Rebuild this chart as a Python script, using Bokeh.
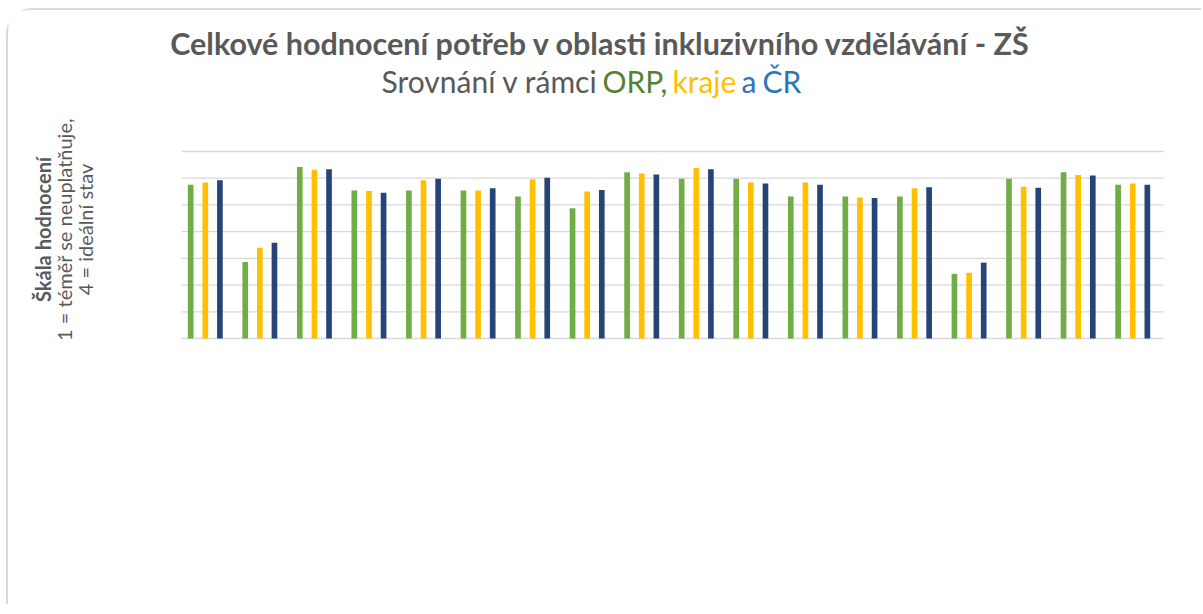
import math
from bokeh.plotting import figure
from bokeh.models import Range1d, Label
from bokeh.embed import file_html
from bokeh.resources import INLINE

# ---- data ----
categories = [str(i) for i in range(1, 19)]
orp = [2.88, 1.43, 3.21, 2.77, 2.77, 2.77, 2.66, 2.44, 3.11, 2.99, 2.99, 2.66, 2.66, 2.66, 1.21, 2.99, 3.11, 2.88]
kraj = [2.92, 1.70, 3.16, 2.76, 2.96, 2.77, 2.98, 2.75, 3.09, 3.19, 2.92, 2.92, 2.64, 2.81, 1.23, 2.84, 3.06, 2.90]
cr = [2.96, 1.79, 3.17, 2.73, 2.99, 2.81, 3.01, 2.78, 3.07, 3.17, 2.90, 2.88, 2.63, 2.83, 1.42, 2.82, 3.05, 2.88]
y_ticks = [0, 0.5, 1.0, 1.5, 2.0, 2.5, 3.0, 3.5]

title_text = "Celkové hodnocení potřeb v oblasti inkluzivního vzdělávání - ZŠ"
subtitle_parts = ["Srovnání v rámci ", "ORP,", "kraje", "a", "ČR"]
ylabel_lines = ["Škála hodnocení", "1 = téměř se neuplatňuje,", "4 = ideální stav"]

GREEN = "#70AD47"
YELLOW = "#FFC000"
BLUE = "#264478"
GRAY = "#595959"
FONT = "Lato"

# ---- layout (page pixels) ----
CANVAS_X, CANVAS_Y = 8, 10           # canvas top-left on the page
W, H = 1195, 596
PLOT_L, PLOT_R = 181, 1163           # plot area (x pixel range)
PLOT_T, PLOT_B = 151, 338            # plot area (y pixel range)
X0, X1 = 0.064, 18.064               # category axis extent within plot area
Y0, Y1 = 0.0, 3.5                    # value axis extent within plot area
LABEL_DY = 12                        # empirical vertical correction for screen labels

kx = (PLOT_R - PLOT_L) / (X1 - X0)
ky = (PLOT_B - PLOT_T) / (Y1 - Y0)
xr = Range1d(X0 - (PLOT_L - CANVAS_X) / kx, X1 + (CANVAS_X + W - PLOT_R) / kx)
yr = Range1d(Y0 - (CANVAS_Y + H - PLOT_B) / ky, Y1 + (PLOT_T - CANVAS_Y) / ky)

p = figure(width=W, height=H, output_backend="svg", toolbar_location=None,
           x_range=xr, y_range=yr,
           min_border_left=0, min_border_right=0, min_border_top=0, min_border_bottom=0)
p.xaxis.visible = False
p.yaxis.visible = False
p.xgrid.visible = False
p.ygrid.visible = False
p.outline_line_color = None
p.background_fill_color = "white"
p.border_fill_color = "white"
p.styles = {"margin-top": "8px", "margin-left": "6px",
            "border-top": "2px solid #d9d9d9", "border-left": "2px solid #d9d9d9",
            "border-top-left-radius": "26px"}

# horizontal gridlines of the value axis
p.segment(x0=[X0] * len(y_ticks), x1=[X1] * len(y_ticks), y0=y_ticks, y1=y_ticks,
          line_color="#d9d9d9", line_width=1.3)

n = len(categories)
off = 0.268
bw = 0.104
p.vbar(x=[i + 0.5 - off for i in range(n)], top=orp, bottom=0, width=bw, color=GREEN, line_color=None)
p.vbar(x=[i + 0.5 for i in range(n)], top=kraj, bottom=0, width=bw, color=YELLOW, line_color=None)
p.vbar(x=[i + 0.5 + off for i in range(n)], top=cr, bottom=0, width=bw, color=BLUE, line_color=None)

# label coordinates: frame == canvas, origin bottom-left
def lx(X):
    return X - CANVAS_X

def ly(Y):
    return CANVAS_Y + H - Y + LABEL_DY

p.add_layout(Label(x=lx(600), y=ly(54), x_units="screen", y_units="screen", text=title_text,
                   text_font=FONT, text_font_style="bold", text_font_size="30.5px", text_color=GRAY,
                   text_align="center", text_baseline="alphabetic"))

sub_x = [381, 602, 672, 741, 762]
sub_c = [GRAY, "#548235", YELLOW, "#2E75B6", "#2E75B6"]
for t, X, c in zip(subtitle_parts, sub_x, sub_c):
    p.add_layout(Label(x=lx(X), y=ly(92), x_units="screen", y_units="screen", text=t,
                       text_font=FONT, text_font_size="30px", text_color=c,
                       text_align="left", text_baseline="alphabetic"))

yl_x = [42, 63, 84]
for i, (t, X) in enumerate(zip(ylabel_lines, yl_x)):
    p.add_layout(Label(x=lx(X), y=ly(241), x_units="screen", y_units="screen", text=t,
                       angle=math.pi / 2, text_font=FONT,
                       text_font_style="bold" if i == 0 else "normal",
                       text_font_size="20px", text_color=GRAY,
                       text_align="center", text_baseline="middle"))

open("out.html", "w").write(file_html(p, INLINE))
